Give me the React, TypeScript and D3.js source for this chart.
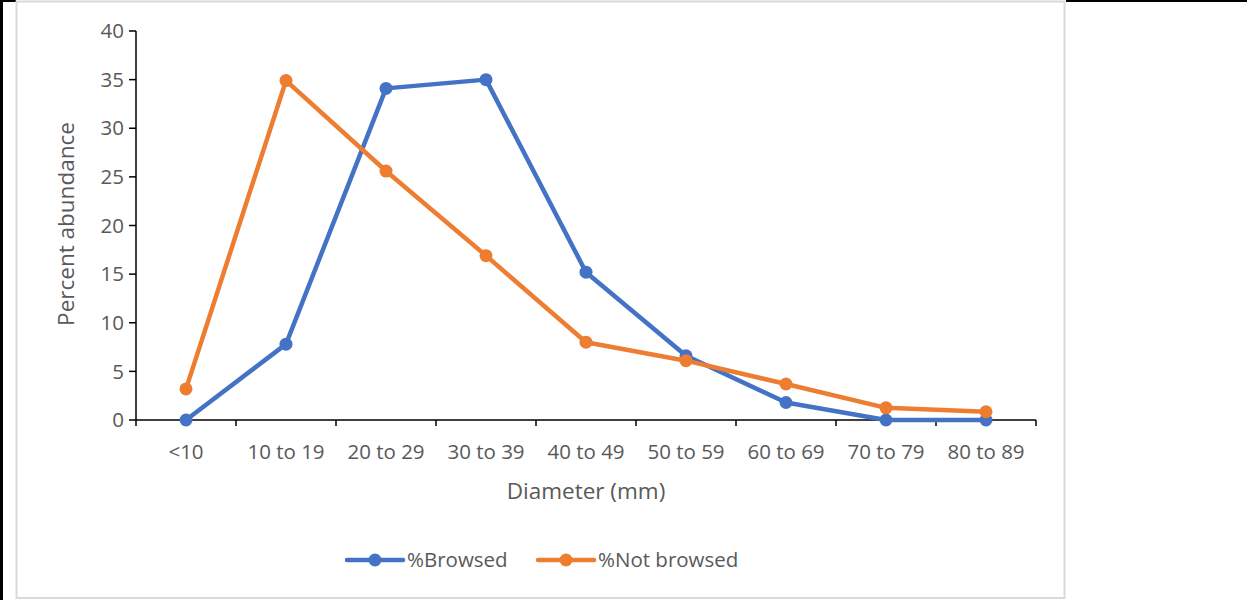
import React from "react";
import * as d3 from "d3";

const categories = ["<10", "10 to 19", "20 to 29", "30 to 39", "40 to 49", "50 to 59", "60 to 69", "70 to 79", "80 to 89"];
const browsed = [0, 7.8, 34.1, 35.0, 15.2, 6.6, 1.8, 0, 0];
const notBrowsed = [3.2, 34.9, 25.6, 16.9, 8.0, 6.1, 3.7, 1.25, 0.85];
const yTicks = [0, 5, 10, 15, 20, 25, 30, 35, 40];
const seriesNames = ["%Browsed", "%Not browsed"];
const seriesColors = ["#4472C4", "#ED7D31"];

const FONT = "'Open Sans', 'Noto Sans', sans-serif";
const TEXT = "#595959";

export default function App() {
  const W = 1247, H = 600;
  const x0 = 136, x1 = 1036, yTop = 31, yBot = 420;
  const x = d3.scaleBand<string>().domain(categories).range([x0, x1]);
  const y = d3.scaleLinear().domain([0, 40]).range([yBot, yTop]);
  const line = d3.line<number>().x((_, i) => (x(categories[i]) as number) + x.bandwidth() / 2).y(d => y(d));
  const series = [browsed, notBrowsed];
  const xTickPositions = d3.range(categories.length + 1).map(i => x0 + i * x.step());
  const legendX = [347, 538];
  const legendY = 560;

  return (
    <svg width={W} height={H} style={{ position: "absolute", left: 0, top: 0, background: "#fff" }} fontFamily={FONT}>
      <rect x={0} y={0} width={W} height={H} fill="#fff" />
      {/* outer black frame pieces */}
      <rect x={0} y={0} width={3} height={H} fill="#000" />
      <rect x={0} y={0} width={16} height={2} fill="#000" />
      <rect x={1066} y={0} width={W - 1066} height={2} fill="#000" />
      {/* chart border */}
      <rect x={16.5} y={1.5} width={1048} height={596.5} fill="none" stroke="#D9D9D9" strokeWidth={2} />

      {/* y axis */}
      <line x1={x0} x2={x0} y1={yTop} y2={yBot} stroke="#000" strokeWidth={1.5} />
      {yTicks.map(t => (
        <g key={t}>
          <line x1={x0 - 7} x2={x0} y1={y(t)} y2={y(t)} stroke="#000" strokeWidth={1.5} />
          <text x={x0 - 12} y={y(t)} dy="0.35em" textAnchor="end" fontSize={20.5} fill={TEXT}>{t}</text>
        </g>
      ))}
      {/* x axis */}
      <line x1={x0} x2={x1} y1={yBot} y2={yBot} stroke="#000" strokeWidth={1.5} />
      {xTickPositions.map((p, i) => (
        <line key={i} x1={p} x2={p} y1={yBot} y2={yBot + 6} stroke="#000" strokeWidth={1.5} />
      ))}
      {categories.map(c => (
        <text key={c} x={(x(c) as number) + x.bandwidth() / 2} y={452} dy="0.35em" textAnchor="middle" fontSize={20.5} fill={TEXT}>{c}</text>
      ))}
      <text x={586} y={491} dy="0.35em" textAnchor="middle" fontSize={22.5} fill={TEXT}>Diameter (mm)</text>
      <text transform={`translate(66,224) rotate(-90)`} dy="0.35em" textAnchor="middle" fontSize={22.5} fill={TEXT}>Percent abundance</text>

      {/* series */}
      {series.map((s, k) => (
        <g key={k}>
          <path d={line(s) as string} fill="none" stroke={seriesColors[k]} strokeWidth={4.5} strokeLinejoin="round" />
          {s.map((v, i) => (
            <circle key={i} cx={(x(categories[i]) as number) + x.bandwidth() / 2} cy={y(v)} r={6.5} fill={seriesColors[k]} />
          ))}
        </g>
      ))}

      {/* legend */}
      {seriesNames.map((n, k) => (
        <g key={n}>
          <line x1={legendX[k]} x2={legendX[k] + 56} y1={legendY} y2={legendY} stroke={seriesColors[k]} strokeWidth={4.5} strokeLinecap="round" />
          <circle cx={legendX[k] + 28} cy={legendY} r={6.5} fill={seriesColors[k]} />
          <text x={legendX[k] + 60} y={legendY} dy="0.35em" fontSize={20.5} fill={TEXT}>{n}</text>
        </g>
      ))}
    </svg>
  );
}
